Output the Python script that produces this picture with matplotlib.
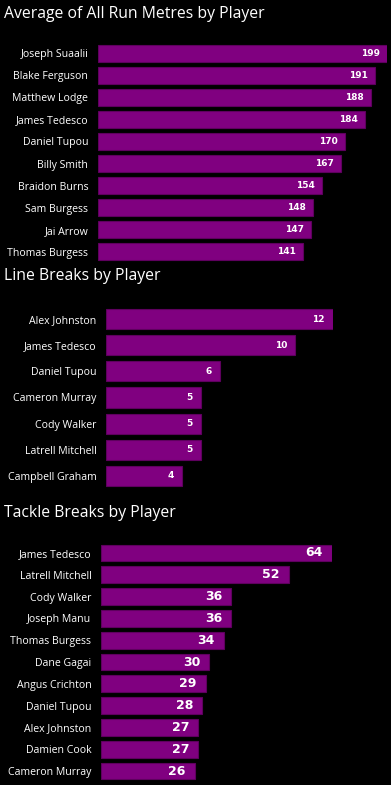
import matplotlib
matplotlib.use("Agg")
import matplotlib.pyplot as plt

plt.rcParams["font.family"] = ["Open Sans", "DejaVu Sans"]

# Average run metres
run_players = ["Joseph Suaalii", "Blake Ferguson", "Matthew Lodge", "James Tedesco",
               "Daniel Tupou", "Billy Smith", "Braidon Burns", "Sam Burgess",
               "Jai Arrow", "Thomas Burgess"]
run_metres = [199, 191, 188, 184, 170, 167, 154, 148, 147, 141]

# Line breaks
lb_players = ["Alex Johnston", "James Tedesco", "Daniel Tupou", "Cameron Murray",
              "Cody Walker", "Latrell Mitchell", "Campbell Graham"]
line_breaks = [12, 10, 6, 5, 5, 5, 4]

# Tackle breaks
tb_players = ["James Tedesco", "Latrell Mitchell", "Cody Walker", "Joseph Manu",
              "Thomas Burgess", "Dane Gagai", "Angus Crichton", "Daniel Tupou",
              "Alex Johnston", "Damien Cook", "Cameron Murray"]
tackle_breaks = [64, 52, 36, 36, 34, 30, 29, 28, 27, 27, 26]

W, H = 391, 785
BG = "black"
BAR = "#800080"
EDGE = "#5e005e"

fig = plt.figure(figsize=(W / 100, H / 100), dpi=100, facecolor=BG)


def panel(title, title_y, names, vals, left, right_max, top, bottom, lab_size, pad):
    fig.text(4 / W, 1 - title_y / H, title, color="white", fontsize=11.3,
             va="center", ha="left")
    ax = fig.add_axes([left / W, 1 - bottom / H, (right_max - left) / W, (bottom - top) / H])
    ax.set_facecolor(BG)
    n = len(vals)
    y = list(range(n))
    ax.barh(y, vals, height=0.77, color=BAR, edgecolor=EDGE, linewidth=0.8)
    ax.set_xlim(0, max(vals))
    ax.set_ylim(n - 0.5, -0.5)
    ax.set_yticks(y)
    ax.set_yticklabels(names, color="white", fontsize=7.6)
    ax.tick_params(axis="y", length=0, pad=7)
    ax.set_xticks([])
    for s in ax.spines.values():
        s.set_visible(False)
    for yi, v in zip(y, vals):
        ax.annotate(str(v), (v, yi), xytext=(-pad, 0), textcoords="offset pixels",
                    ha="right", va="center", color="white", fontsize=lab_size,
                    fontweight="bold", family="DejaVu Sans")
    return ax


panel("Average of All Run Metres by Player", 14, run_players, run_metres,
      98, 387, 42, 263, 6.5, 7)
panel("Line Breaks by Player", 276, lb_players, line_breaks,
      106, 333, 306, 489, 6.5, 8)
panel("Tackle Breaks by Player", 513, tb_players, tackle_breaks,
      101, 332, 542, 782, 9, 9)

fig.savefig("out.png", dpi=100, facecolor=BG)
